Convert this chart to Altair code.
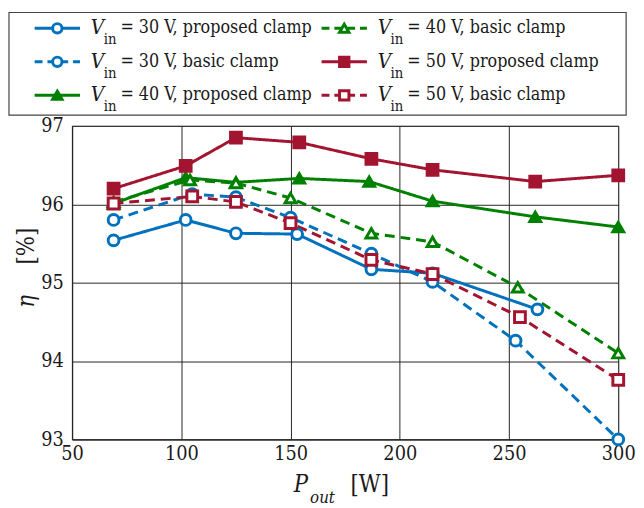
import altair as alt
import pandas as pd

# ---------------- data ----------------
series = ["30p", "30b", "40p", "40b", "50p", "50b"]
label_rest = ["= 30 V, proposed clamp", "= 30 V, basic clamp", "= 40 V, proposed clamp",
              "= 40 V, basic clamp", "= 50 V, proposed clamp", "= 50 V, basic clamp"]
legend_col = [0, 0, 0, 1, 1, 1]
legend_row = [0, 1, 2, 0, 1, 2]

p30_x = [69, 102, 125, 153, 187, 215, 263]
p30_y = [95.54, 95.80, 95.63, 95.62, 95.17, 95.12, 94.66]
b30_x = [69, 105, 125, 150, 187, 215, 253, 300]
b30_y = [95.80, 96.13, 96.09, 95.83, 95.37, 95.01, 94.26, 93.00]
p40_x = [69, 102, 125, 154, 186, 215, 262, 300]
p40_y = [96.01, 96.34, 96.28, 96.33, 96.29, 96.04, 95.84, 95.71]
b40_x = [69, 104, 125, 150, 187, 215, 254, 300]
b40_y = [96.03, 96.31, 96.27, 96.08, 95.63, 95.52, 94.94, 94.10]
p50_x = [69, 102, 125, 154, 187, 215, 262, 300]
p50_y = [96.20, 96.49, 96.85, 96.79, 96.58, 96.44, 96.29, 96.37]
b50_x = [69, 105, 125, 150, 187, 215, 255, 300]
b50_y = [96.01, 96.10, 96.03, 95.76, 95.29, 95.11, 94.56, 93.76]

x_ticks = [50, 100, 150, 200, 250, 300]
y_ticks = [93, 94, 95, 96, 97]

# ---------------- styles ----------------
BLUE, GREEN, RED = "#0072BD", "#008000", "#A2142F"
colors = [BLUE, BLUE, GREEN, GREEN, RED, RED]
dashes = [[1, 0], [10, 6], [1, 0], [10, 6], [1, 0], [10, 6]]
leg_dashes = [[1, 0], [8, 5], [1, 0], [8, 5], [1, 0], [8, 5]]
shapes = ["circle", "circle", "triangle-up", "triangle-up", "square", "square"]
fills = ["white", "white", GREEN, "white", RED, "white"]
SERIF = "DejaVu Serif Condensed"
TXT = "#1a1a1a"

rows = []
for s, xs, ys in zip(series, [p30_x, b30_x, p40_x, b40_x, p50_x, b50_x],
                     [p30_y, b30_y, p40_y, b40_y, p50_y, b50_y]):
    for xv, yv in zip(xs, ys):
        rows.append({"series": s, "P": xv, "eta": yv})
df = pd.DataFrame(rows)

leg = pd.DataFrame({"series": series, "col": legend_col, "row": legend_row,
                    "V": ["V"] * 6, "sub": ["in"] * 6, "rest": label_rest})

color = alt.Color("series:N", scale=alt.Scale(domain=series, range=colors), legend=None)
stroke = alt.Stroke("series:N", scale=alt.Scale(domain=series, range=colors), legend=None)
shape = alt.Shape("series:N", scale=alt.Scale(domain=series, range=shapes), legend=None)
fill = alt.Fill("series:N", scale=alt.Scale(domain=series, range=fills), legend=None)

# ---------------- main plot ----------------
xenc = alt.X("P:Q", scale=alt.Scale(domain=[50, 300], nice=False),
             axis=alt.Axis(values=x_ticks, title=None, format="d", labelFont=SERIF, labelFontSize=20,
                           labelColor=TXT, labelPadding=4, ticks=False,
                           grid=True, gridColor="#262626", gridOpacity=1,
                           domainColor="#262626", domainWidth=1.2, labelFlush=False))
yenc = alt.Y("eta:Q", scale=alt.Scale(domain=[93, 97], nice=False),
             axis=alt.Axis(values=y_ticks, title=None, format="d", labelFont=SERIF, labelFontSize=20,
                           labelColor=TXT, labelPadding=9, ticks=False,
                           grid=True, gridColor="#262626", gridOpacity=1,
                           domainColor="#262626", domainWidth=1.2, labelFlush=False))

lines = alt.Chart(df).mark_line(strokeWidth=3).encode(
    x=xenc, y=yenc, color=color,
    strokeDash=alt.StrokeDash("series:N", scale=alt.Scale(domain=series, range=dashes), legend=None),
    detail="series:N")
points = alt.Chart(df).mark_point(size=120, strokeWidth=3, opacity=1, filled=False).encode(
    x="P:Q", y="eta:Q", stroke=stroke, shape=shape, fill=fill)

one = pd.DataFrame({"t": [0]})


def txt(text, x, y, size, style="normal", angle=0):
    return alt.Chart(one).mark_text(text=text, font=SERIF, fontSize=size, fontStyle=style,
                                    color=TXT, angle=angle, align="center",
                                    baseline="middle").encode(x=alt.value(x), y=alt.value(y))


xt1 = txt("P", 232, 364, 24, "italic")
xt2 = txt("out", 254, 378, 17, "italic")
xt3 = txt("[W]", 302, 364, 24)
yt1 = txt("η", -46, 178, 24, "italic", 270)
yt2 = txt("[%]", -46, 122, 24, "normal", 270)

main = alt.layer(lines, points, xt1, xt2, xt3, yt1, yt2)

# ---------------- legend (drawn above the plot) ----------------
lx = alt.X("col:Q", scale=alt.Scale(domain=[0.0515, 1.955], nice=False, zero=False), axis=None)
ly = alt.Y("row:Q", scale=alt.Scale(domain=[2.912, 12.265], nice=False, zero=False, reverse=True), axis=None)

lbox = alt.Chart(one).mark_rect(fill="white", stroke="#444", strokeWidth=1.2).encode(
    x=alt.value(-64), x2=alt.value(562), y=alt.value(-115), y2=alt.value(-11))
lrule = alt.Chart(leg).mark_rule(strokeWidth=3, xOffset=-23, x2Offset=23).encode(
    x=lx, x2="col:Q", y=ly, color=color,
    strokeDash=alt.StrokeDash("series:N", scale=alt.Scale(domain=series, range=leg_dashes), legend=None))
lpts = alt.Chart(leg).mark_point(size=90, strokeWidth=3, opacity=1, filled=False).encode(
    x="col:Q", y="row:Q", stroke=stroke, shape=shape, fill=fill)
lV = alt.Chart(leg).mark_text(font=SERIF, fontSize=21, fontStyle="italic", align="left",
                              baseline="middle", dx=34, color=TXT).encode(x="col:Q", y="row:Q", text="V:N")
lsub = alt.Chart(leg).mark_text(font=SERIF, fontSize=15, align="left", baseline="middle",
                                dx=47, dy=11, color=TXT).encode(x="col:Q", y="row:Q", text="sub:N")
lrest = alt.Chart(leg).mark_text(font=SERIF, fontSize=18, align="left", baseline="middle",
                                 dx=64, color=TXT).encode(x="col:Q", y="row:Q", text="rest:N")

legend = alt.layer(lbox, lrule, lpts, lV, lsub, lrest)

chart = alt.layer(main, legend).resolve_scale(
    x="independent", y="independent", strokeDash="independent"
).properties(
    width=554, height=318, view=alt.ViewBackground(stroke="#a0a0a0", strokeWidth=1.2)
).configure(padding=0)

chart.save("out.html", embed_options={"renderer": "svg", "actions": False})
